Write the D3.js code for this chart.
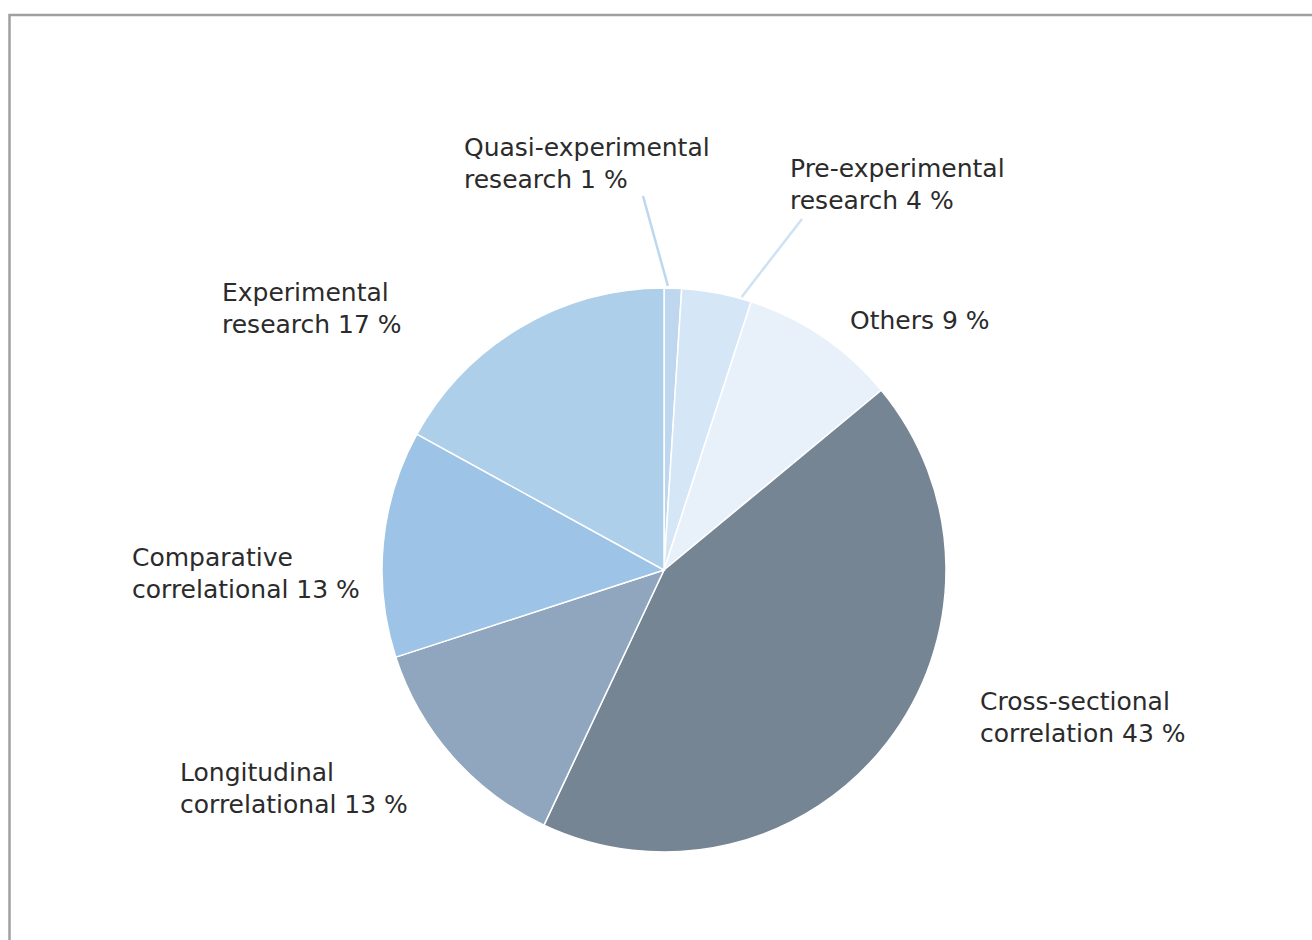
<!DOCTYPE html>
<html>
<head>
<meta charset="utf-8">
<script src="https://cdn.jsdelivr.net/npm/d3@7"></script>
<style>
  html, body { margin: 0; padding: 0; background: #fff; }
  svg { display: block; }
  .label { font-family: "Century Gothic", "DejaVu Sans", sans-serif; font-size: 25px; fill: #2b2b2b; }
</style>
</head>
<body>
<svg id="chart"></svg>
<script>
// Data (clockwise from 12 o'clock)
const categories = [
  "Quasi-experimental research",
  "Pre-experimental research",
  "Others",
  "Cross-sectional correlation",
  "Longitudinal correlational",
  "Comparative correlational",
  "Experimental research"
];
const values = [1, 4, 9, 43, 13, 13, 17];
const labelLines = [
  ["Quasi-experimental", "research 1 %"],
  ["Pre-experimental", "research 4 %"],
  ["Others 9 %"],
  ["Cross-sectional", "correlation 43 %"],
  ["Longitudinal", "correlational 13 %"],
  ["Comparative", "correlational 13 %"],
  ["Experimental", "research 17 %"]
];
const colors = ["#bfd7ee", "#d5e6f6", "#e8f1fa", "#768594", "#8fa6be", "#9dc3e6", "#aecfea"];

const width = 1312, height = 940;
const cx = 664, cy = 570, radius = 282;

// label placement (x, first baseline) and leader settings
const labelPos = [
  { x: 464, y: 156, leader: [643, 196], frac: 0.22 },
  { x: 790, y: 177, leader: [802, 219], frac: 0.86 },
  { x: 850, y: 329 },
  { x: 980, y: 710 },
  { x: 180, y: 781 },
  { x: 132, y: 566 },
  { x: 222, y: 301 }
];

const svg = d3.select("#chart").attr("width", width).attr("height", height);

// outer frame
svg.append("rect")
  .attr("x", 9.5).attr("y", 15)
  .attr("width", width + 20).attr("height", height + 20)
  .attr("fill", "none")
  .attr("stroke", "#a0a0a4")
  .attr("stroke-width", 2.5);

const pie = d3.pie().sort(null).value(d => d)(values);
const arc = d3.arc().innerRadius(0).outerRadius(radius);

const g = svg.append("g").attr("transform", `translate(${cx}, ${cy})`);

g.selectAll("path.slice")
  .data(pie)
  .enter()
  .append("path")
  .attr("class", "slice")
  .attr("d", arc)
  .attr("fill", (d, i) => colors[i])
  .attr("stroke", "#fff")
  .attr("stroke-width", 1.5);

// leader lines for the small slices
labelPos.forEach((p, i) => {
  if (!p.leader) return;
  const d = pie[i];
  const a = d.startAngle + (d.endAngle - d.startAngle) * p.frac;
  const ex = cx + radius * Math.sin(a);
  const ey = cy - radius * Math.cos(a);
  svg.append("line")
    .attr("x1", p.leader[0]).attr("y1", p.leader[1])
    .attr("x2", ex).attr("y2", ey - 2)
    .attr("stroke", i === 0 ? "#bdd7ee" : "#cfe2f3")
    .attr("stroke-width", 2.5);
});

// labels
labelLines.forEach((lines, i) => {
  const p = labelPos[i];
  const t = svg.append("text").attr("class", "label").attr("x", p.x).attr("y", p.y);
  lines.forEach((s, j) => {
    t.append("tspan").attr("x", p.x).attr("y", p.y + j * 32).text(s);
  });
});
</script>
</body>
</html>
